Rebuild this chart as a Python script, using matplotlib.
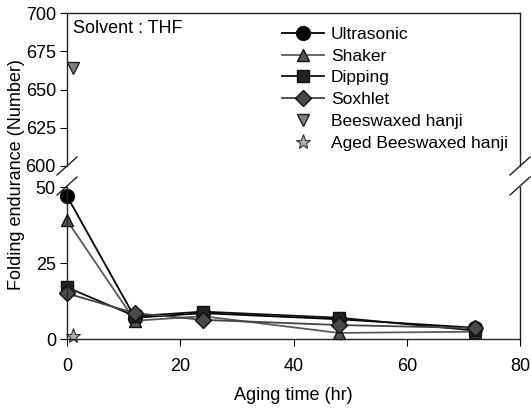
import matplotlib
matplotlib.use("Agg")
import matplotlib.pyplot as plt
from matplotlib.lines import Line2D

plt.rcParams['font.family'] = ['Liberation Sans', 'DejaVu Sans']

time = [0, 12, 24, 48, 72]
ultrasonic = [47, 7, 8.5, 6.5, 3.7]
shaker = [39, 6, 7.5, 2, 2.4]
dipping = [17, 7.5, 9, 7, 2.8]
soxhlet = [15, 8.5, 6.3, 4.6, 3.6]
bees_x = [1]
bees_y = [664]
aged_x = [1]
aged_y = [1]

series = [
    ("Ultrasonic", ultrasonic, 'o', '#000000', '#000000', 10),
    ("Shaker", shaker, '^', '#555555', '#5a5a5a', 9),
    ("Dipping", dipping, 's', '#222222', '#111111', 8.5),
    ("Soxhlet", soxhlet, 'D', '#4a4a4a', '#444444', 8.5),
]

fig = plt.figure(figsize=(5.31, 4.08), dpi=100)
L, R = 67/531, 520/531
ax_up = fig.add_axes([L, 1-166/408, R-L, (166-13)/408])
ax_lo = fig.add_axes([L, 1-339/408, R-L, (339-187)/408])

handles = []
for name, vals, mk, face, lc, ms in series:
    h, = ax_lo.plot(time, vals, marker=mk, color=lc, markerfacecolor=face,
                    markeredgecolor='#111111', markersize=ms, linewidth=1.3,
                    clip_on=False, label=name)
    handles.append(h)
hb, = ax_up.plot(bees_x, bees_y, linestyle='none', marker='v', markersize=9,
                 markerfacecolor='#808080', markeredgecolor='#222222',
                 clip_on=False, label="Beeswaxed hanji")
ha, = ax_lo.plot(aged_x, aged_y, linestyle='none', marker='*', markersize=11,
                 markerfacecolor='#b0b0b0', markeredgecolor='#333333',
                 markeredgewidth=0.8, clip_on=False, label="Aged Beeswaxed hanji")
handles += [hb, ha]

for ax in (ax_up, ax_lo):
    ax.set_xlim(0, 80)
    for s in ax.spines.values():
        s.set_linewidth(1.0)
        s.set_color('#222222')
    ax.tick_params(axis='y', direction='out', length=5, labelsize=13, right=False, pad=3)
    ax.set_facecolor('white')

ax_up.set_ylim(600, 700)
ax_up.set_yticks([600, 625, 650, 675, 700])
ax_up.spines['bottom'].set_visible(False)
ax_up.tick_params(axis='x', bottom=False, labelbottom=False)
ax_up.text(0.013, 0.87, "Solvent : THF", transform=ax_up.transAxes, fontsize=13)

ax_lo.set_ylim(0, 50)
ax_lo.set_yticks([0, 25, 50])
ax_lo.spines['top'].set_visible(False)
ax_lo.set_xticks([0, 20, 40, 60, 80])
ax_lo.tick_params(axis='x', direction='out', length=5, labelsize=13, pad=9)
ax_lo.set_xlabel("Aging time (hr)", fontsize=13, labelpad=8.5)

fig.text(0.032, 0.573, "Folding endurance (Number)", rotation=90,
         ha='center', va='center', fontsize=13)

# break marks
for xp in (L*531, R*531):
    for yc in (166, 186):
        x0, x1 = (xp-10)/531, (xp+10)/531
        y0, y1 = 1-(yc+9)/408, 1-(yc-9)/408
        fig.add_artist(Line2D([x0, x1], [y0, y1], color='#222222', linewidth=1.0))

ax_up.legend(handles=handles, loc='upper left', bbox_to_anchor=(0.46, 0.955),
             frameon=False, fontsize=12.5, handlelength=2.4, handletextpad=0.4,
             labelspacing=0.38, borderaxespad=0)

fig.savefig("out.png", dpi=100)
